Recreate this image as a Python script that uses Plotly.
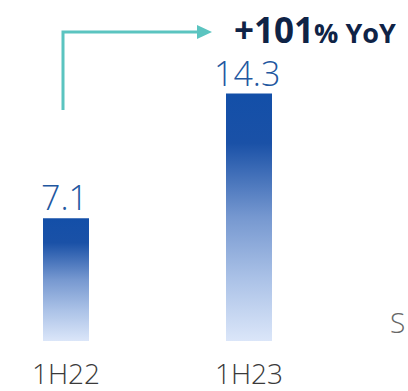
import plotly.graph_objects as go

categories = ["1H22", "1H23"]
values = [7.1, 14.3]
value_labels = ["7.1", "14.3"]
headline_big = "+101"
headline_small = "% YoY"
side_text = "S"

W, H = 408, 391
ML, MR, MT, MB = 0, 0, 0, 50
PLOT_H = H - MT - MB  # 341
PX_PER_UNIT = 17.3
X_UNIT = 183.0
X0_PX = 66.0
BAR_W = 46.0 / X_UNIT

xr = [-X0_PX / X_UNIT, (W - X0_PX) / X_UNIT - 0]
yr = [0, PLOT_H / PX_PER_UNIT]

grad = dict(type="vertical",
            colorscale=[[0, "#dbe6f9"], [0.25, "#abc2e7"], [0.5, "#7698d0"],
                        [0.8, "#1a51a7"], [1, "#134fa8"]])

fig = go.Figure()
for i, (c, v) in enumerate(zip(categories, values)):
    x0, x1 = i - BAR_W / 2, i + BAR_W / 2
    fig.add_trace(go.Scatter(
        x=[x0, x1, x1, x0, x0], y=[0, 0, v, v, 0],
        mode="lines", fill="toself", line=dict(width=0),
        fillgradient=grad, hoverinfo="skip", showlegend=False))
    fig.add_annotation(x=i, y=v, text=value_labels[i], showarrow=False,
                       yanchor="bottom", xanchor="center", xshift=-2, yshift=5,
                       height=30, valign="middle", borderpad=0,
                       font=dict(family="Open Sans", size=34, color="#22579f", weight=300))

def px(xp):
    return xp / W
def py(yp):
    return (PLOT_H - yp) / PLOT_H

teal = "#5bc4c0"
fig.add_shape(type="path", xref="paper", yref="paper",
              path=f"M {px(63)},{py(110)} L {px(63)},{py(32)} L {px(198)},{py(32)}",
              line=dict(color=teal, width=3))
fig.add_shape(type="path", xref="paper", yref="paper",
              path=f"M {px(197)},{py(25)} L {px(212)},{py(32)} L {px(197)},{py(39)} Z",
              fillcolor=teal, line=dict(color=teal, width=0))

fig.add_annotation(xref="paper", yref="paper", x=px(233), y=py(29),
                   xanchor="left", yanchor="middle", showarrow=False,
                   height=32, valign="middle", borderpad=0,
                   text=f"<b>{headline_big}</b><span style='font-size:27px'><b>{headline_small}</b></span>",
                   font=dict(family="Open Sans", size=35, color="#0f2346"))

fig.add_annotation(xref="paper", yref="paper", x=px(388), y=py(322),
                   xanchor="left", yanchor="middle", showarrow=False,
                   text=side_text,
                   font=dict(family="Open Sans", size=28, color="#666666", weight=300))

fig.update_layout(
    width=W, height=H, margin=dict(l=ML, r=MR, t=MT, b=MB),
    paper_bgcolor="white", plot_bgcolor="white",
    xaxis=dict(range=xr, tickvals=list(range(len(categories))), ticktext=categories,
               showgrid=False, zeroline=False, showline=False, ticks="",
               ticklabelstandoff=14, automargin=False,
               tickfont=dict(family="Open Sans", size=28, color="#3a3a3a", weight=300),
               fixedrange=True),
    yaxis=dict(range=yr, visible=False, fixedrange=True, automargin=False),
)

fig.write_html("out.html")
